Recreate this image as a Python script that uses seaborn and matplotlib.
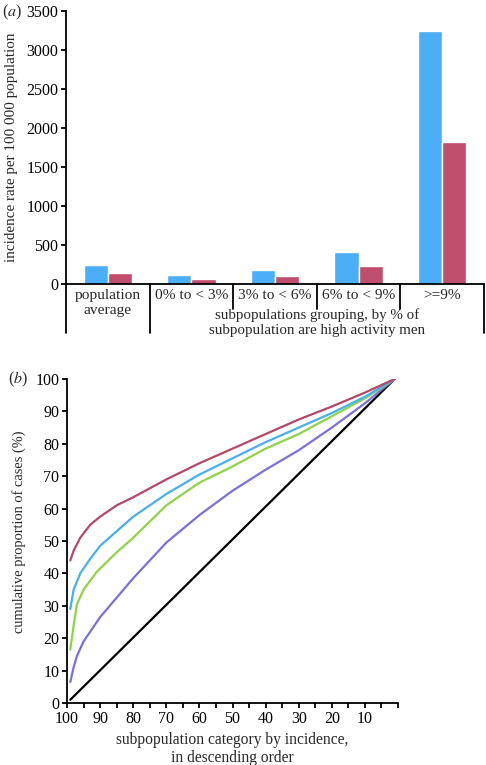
import pandas as pd
import seaborn as sns
import matplotlib.pyplot as plt

# panel (a): incidence rate per 100 000, two series per group
groups = ['population\naverage', '0% to < 3%', '3% to < 6%', '6% to < 9%', '>=9%']
rate_blue = [250, 120, 180, 410, 3245]
rate_red = [145, 70, 105, 235, 1820]

# panel (b): cumulative proportion of cases (%) by subpopulation category
cat_red = [99, 98, 96, 93, 90, 85, 80, 70, 60, 50, 40, 30, 20, 10, 1]
cum_red = [44, 47, 51, 55, 57.5, 61, 63.5, 69, 74, 78.5, 83, 87.5, 91.5, 95.8, 100]
cat_blue = [99, 98, 96, 93, 90, 85, 80, 70, 60, 50, 40, 30, 20, 10, 1]
cum_blue = [29, 35, 40, 44.5, 48.5, 53, 57.5, 64.5, 70.5, 75.5, 80.5, 85, 89.5, 94.5, 100]
cat_green = [99, 98, 97, 95, 91, 85, 80, 70, 60, 50, 40, 30, 20, 10, 1]
cum_green = [16.5, 24, 30.5, 35, 40.5, 46.5, 51, 61, 68, 73, 78.5, 83, 88.5, 94, 100]
cat_purple = [99, 98, 97, 95, 90, 85, 80, 75, 70, 60, 50, 40, 30, 20, 10, 1]
cum_purple = [6.5, 11, 14.5, 19, 26.5, 32.5, 38.5, 44, 49.5, 58, 65.5, 72, 78, 85, 92.5, 100]
cat_black = [99, 1]
cum_black = [1, 100]

sns.set_style('ticks')
plt.rcParams['font.family'] = ['Liberation Serif', 'DejaVu Serif']
plt.rcParams['mathtext.fontset'] = 'stix'
plt.rcParams['axes.linewidth'] = 1.3
plt.rcParams['xtick.major.width'] = 1.3
plt.rcParams['ytick.major.width'] = 1.3
plt.rcParams['xtick.major.size'] = 3.5
plt.rcParams['ytick.major.size'] = 3.5
plt.rcParams['xtick.color'] = 'black'
plt.rcParams['ytick.color'] = 'black'
plt.rcParams['axes.edgecolor'] = 'black'

fs = 11.5

fig = plt.figure(figsize=(4.86, 7.65), dpi=100)

# ---- (a) bars ----
ax1 = fig.add_axes([66 / 486, 1 - 284 / 765, 418 / 486, 273 / 765])
df_a = pd.DataFrame({
    'group': groups * 2,
    'series': ['blue'] * len(groups) + ['red'] * len(groups),
    'rate': rate_blue + rate_red,
})
sns.barplot(data=df_a, x='group', y='rate', hue='series', order=groups,
            palette={'blue': '#4caef7', 'red': '#bf4d6c'}, width=0.58,
            saturation=1, legend=False, ax=ax1)
ax1.set_xlim(-0.5, 4.5)
ax1.set_ylim(0, 3500)
ax1.set_yticks(range(0, 3501, 500))
ax1.set_xticks([])
ax1.set_xlabel('')
ax1.set_ylabel('incidence rate per 100 000 population', fontsize=10.9)
ax1.yaxis.set_label_coords(-0.115, 0.5)
ax1.spines['top'].set_visible(False)
ax1.spines['right'].set_visible(False)

# table under the bars
tr = ax1.get_xaxis_transform()
for xb in [-0.5, 0.5, 4.5]:
    ax1.plot([xb, xb], [0, -0.18], color='black', lw=1.3, transform=tr, clip_on=False)
for xb in [1.5, 2.5, 3.5]:
    ax1.plot([xb, xb], [0, -0.09], color='black', lw=1.3, transform=tr, clip_on=False)
ax1.text(0, -0.02, groups[0], transform=tr, ha='center', va='top', fontsize=11.1,
         linespacing=1.2)
for i in range(1, 5):
    ax1.text(i, -0.02, groups[i], transform=tr, ha='center', va='top', fontsize=11.1)
ax1.text(2.5, -0.087, 'subpopulations grouping, by % of\nsubpopulation are high activity men',
         transform=tr, ha='center', va='top', fontsize=10.8, linespacing=1.2)
fig.text(2 / 486, 1 - 12 / 765, r'($\it{a}$)', fontsize=fs, va='center')

# ---- (b) cumulative curves ----
ax2 = fig.add_axes([67 / 486, 1 - 703 / 765, 331 / 486, 324 / 765])
df_b = pd.concat([
    pd.DataFrame({'category': cat_black, 'cum': cum_black, 'line': 'black'}),
    pd.DataFrame({'category': cat_purple, 'cum': cum_purple, 'line': 'purple'}),
    pd.DataFrame({'category': cat_green, 'cum': cum_green, 'line': 'green'}),
    pd.DataFrame({'category': cat_blue, 'cum': cum_blue, 'line': 'blue'}),
    pd.DataFrame({'category': cat_red, 'cum': cum_red, 'line': 'red'}),
])
sns.lineplot(data=df_b, x='category', y='cum', hue='line', sort=False,
             palette={'black': 'black', 'purple': '#7a71d8', 'green': '#8fd24b',
                      'blue': '#4aaee8', 'red': '#b5476a'},
             linewidth=1.6, legend=False, ax=ax2)
ax2.set_xlim(100, 0)
ax2.set_ylim(0, 100)
ax2.set_yticks(range(0, 101, 10))
ax2.set_xticks(range(0, 101, 5))
ax2.set_xticklabels([str(v) if v % 10 == 0 and v > 0 else '' for v in range(0, 101, 5)])
ax2.set_xlabel('subpopulation category by incidence,\nin descending order', fontsize=11.2,
               linespacing=1.15, labelpad=4)
ax2.set_ylabel('cumulative proportion of cases (%)', fontsize=10.4)
ax2.yaxis.set_label_coords(-0.125, 0.53)
ax2.spines['top'].set_visible(False)
ax2.spines['right'].set_visible(False)
ax1.tick_params(labelsize=fs, pad=2)
ax2.tick_params(labelsize=fs, pad=2)
fig.text(8 / 486, 1 - 379 / 765, r'($\it{b}$)', fontsize=fs, va='center')

plt.savefig('out.png', dpi=100)
